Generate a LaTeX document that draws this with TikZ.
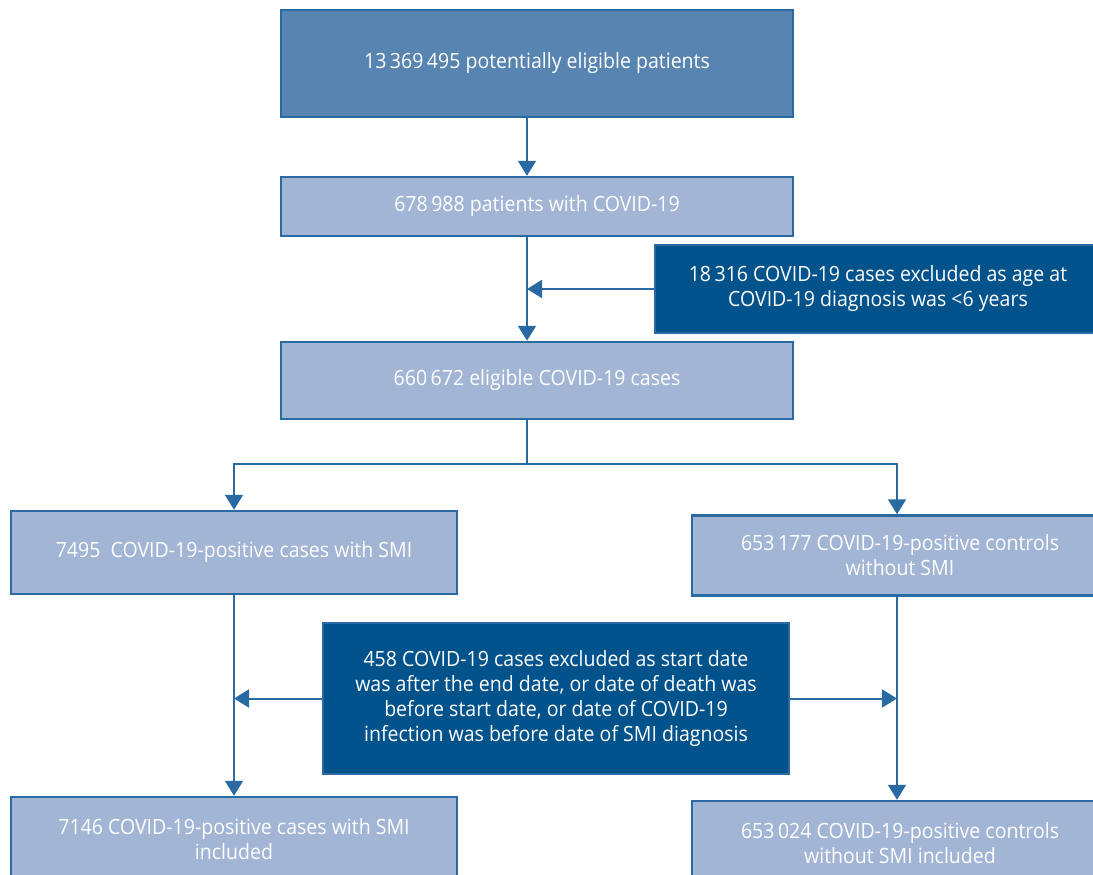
\documentclass[tikz,border=0pt]{standalone}
\usepackage{fontspec}
\setmainfont[FakeStretch=0.93]{Open Sans}
\usepackage{tikz}
\definecolor{boxDark}{RGB}{2,82,140}
\definecolor{boxMid}{RGB}{88,132,178}
\definecolor{boxLight}{RGB}{162,181,213}
\definecolor{edgeBlue}{RGB}{42,106,162}
\usetikzlibrary{arrows.meta,calc,positioning}
\tikzset{
  >={Triangle[width=18pt,length=15pt]},
  font=\fontsize{21}{25}\selectfont,
  box/.style={draw=edgeBlue,line width=2.5pt,fill=boxLight,text=white,shape=rectangle,align=center,inner sep=0},
  topbox/.style={box,fill=boxMid},
  exclbox/.style={box,fill=boxDark,draw=edgeBlue},
  line/.style={draw=edgeBlue,line width=2pt},
}

\begin{document}
\begin{tikzpicture}[x=1pt,y=-1pt]
      \useasboundingbox (0,0) rectangle (1093,875);
      \clip (0,0) rectangle (1093,875);
      \node (patients) [topbox,minimum width=512pt,minimum height=107pt] at (537,63.5) {13\,369\,495 potentially eligible patients};
      \node (covid) [box,minimum width=512pt,minimum height=59pt] at (537,206.5) {678\,988 patients with COVID-19};
      \node (ageex) [exclbox,minimum width=446pt,minimum height=88pt] at (878,289) {18\,316 COVID-19 cases excluded as age at\\COVID-19 diagnosis was <6 years};
      \node (eligible) [box,minimum width=512pt,minimum height=77pt] at (537,380.5) {660\,672 eligible COVID-19 cases};
      \node (smi) [box,minimum width=446pt,minimum height=83pt] at (234,552.5) {7495\ \ COVID-19-positive cases with SMI};
      \node (ctrl) [box,minimum width=416pt,minimum height=80pt] at (900,555.5) {653\,177 COVID-19-positive controls\\without SMI};
      \node (dateex) [exclbox,minimum width=466pt,minimum height=151pt] at (556,698.5) {458 COVID-19 cases excluded as start date\\was after the end date, or date of death was\\before start date, or date of COVID-19\\infection was before date of SMI diagnosis};
      \node (smiin) [box,minimum width=446pt,minimum height=84pt] at (234,839) {7146 COVID-19-positive cases with SMI\\included};
      \node (ctrlin) [box,minimum width=416pt,minimum height=84pt] at (900,843) {653\,024 COVID-19-positive controls\\without SMI included};
      % spine and branches
      \coordinate (spine) at (527,0);
      \coordinate (lbr) at (234,0);
      \coordinate (rbr) at (897,0);
      \coordinate (split) at (527,464);
      \path [line,->] (patients.south -| spine) -- (covid.north -| spine);
      \path [line,->] (covid.south -| spine) -- (eligible.north -| spine);
      \path [line,->] (ageex.west) -- (ageex.west -| spine);
      \path [line] (eligible.south -| spine) -- (split);
      \path [line,->] (split) -| (smi.north -| lbr);
      \path [line,->] (split) -| (ctrl.north -| rbr);
      \path [line,->] (smi.south -| lbr) -- (smiin.north -| lbr);
      \path [line,->] (ctrl.south -| rbr) -- (ctrlin.north -| rbr);
      \path [line,->] (dateex.west) -- (dateex.west -| lbr);
      \path [line,->] (dateex.east) -- (dateex.east -| rbr);
\end{tikzpicture}
\end{document}
